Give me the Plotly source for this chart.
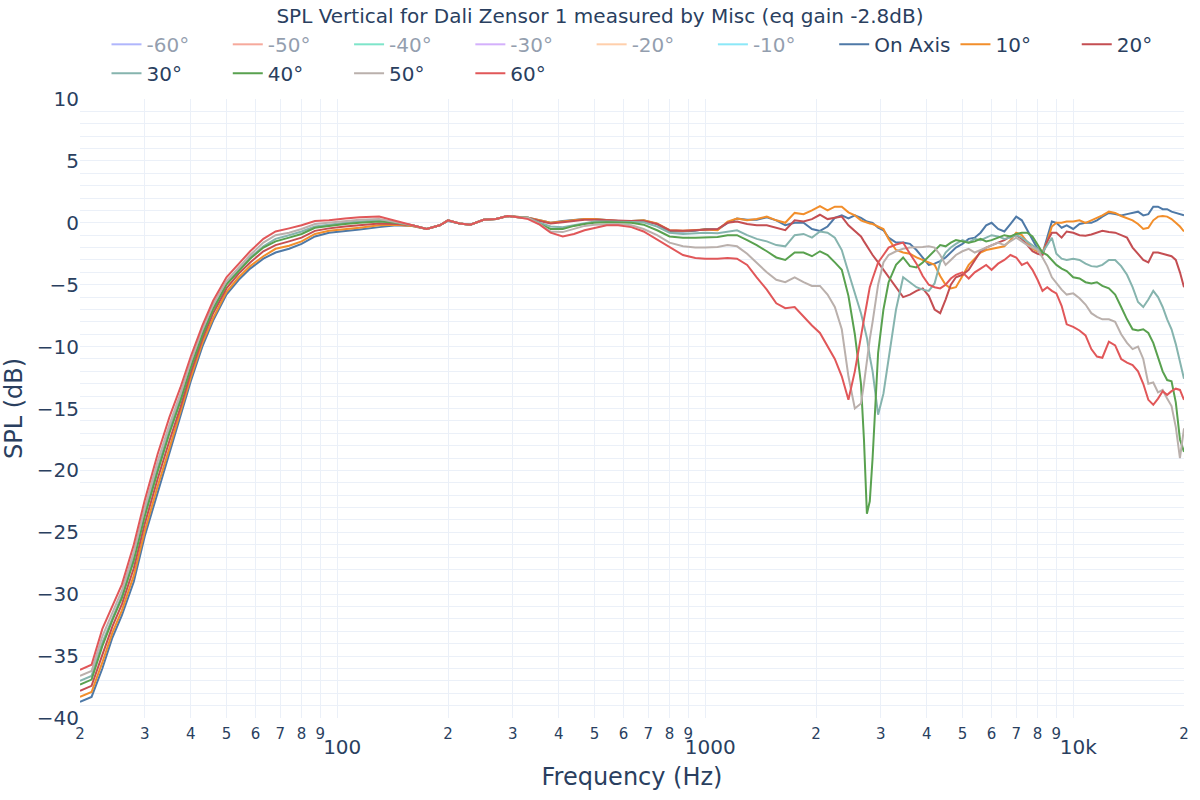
import plotly.graph_objects as go

TITLE = "SPL Vertical for Dali Zensor 1 measured by Misc (eq gain -2.8dB)"

FREQ = [
    20, 21.5, 23, 24.5, 26, 28, 30, 32.5, 35, 37.5,
    40, 43, 46, 50, 54, 58, 63, 68, 74, 80,
    87, 95, 105, 115, 130, 145, 160, 175, 190, 200,
    215, 230, 250, 270, 290, 310, 330, 355, 380, 410,
    440, 470, 500, 540, 580, 630, 680, 740, 800, 870,
    940, 1000, 1080, 1150, 1220, 1300, 1380, 1470, 1560, 1650,
    1750, 1850, 1950, 2050, 2150, 2250, 2350, 2450, 2550, 2650,
    2700, 2750, 2800, 2850, 2950, 3050, 3150, 3300, 3450, 3600,
    3750, 3900, 4050, 4200, 4350, 4500, 4650, 4800, 5000, 5200,
    5400, 5600, 5800, 6000, 6250, 6500, 6750, 7000, 7250, 7500,
    7750, 8000, 8250, 8500, 8750, 9000, 9300, 9600, 10000, 10400,
    10800, 11200, 11600, 12000, 12500, 13000, 13500, 14000, 14500, 15000,
    15500, 16000, 16500, 17000, 17500, 18000, 18500, 19000, 19500, 20000,
]

ON_AXIS = [
    -38.7, -38.3, -36.0, -33.5, -31.7, -29.0, -25.3, -21.8, -18.6, -15.7,
    -12.8, -10.0, -7.9, -5.8, -4.6, -3.7, -2.9, -2.4, -2.1, -1.7,
    -1.1, -0.8, -0.7, -0.55, -0.35, -0.2, -0.25, -0.5, -0.2, 0.15,
    -0.05, -0.15, 0.25, 0.3, 0.55, 0.45, 0.4, 0.2, 0.0, 0.15,
    0.25, 0.3, 0.3, 0.2, 0.15, 0.15, 0.2, -0.1, -0.7, -0.7,
    -0.65, -0.5, -0.55, 0.0, 0.35, 0.25, 0.25, 0.45, 0.2, -0.2,
    0.0, 0.0, -0.5, -0.65, -0.3, 0.4, 0.6, 0.35, 0.6, 0.4,
    0.25, 0.1, 0.05, 0.0, -0.4, -0.6, -1.2, -1.6, -1.6, -1.7,
    -2.2, -2.8, -3.4, -3.3, -3.1, -2.8, -2.4, -2.0, -1.7, -1.3,
    -1.2, -0.8, -0.2, 0.0, -0.5, -0.7, -0.1, 0.5, 0.2, -0.6,
    -1.4, -2.1, -2.5, -1.2, 0.1, 0.0, -0.4, -0.2, -0.5, -0.1,
    0.0, 0.0, 0.2, 0.5, 0.8, 0.7, 0.6, 0.7, 0.8, 0.9,
    0.6, 0.7, 1.3, 1.3, 1.1, 1.1, 0.9, 0.8, 0.7, 0.6,
]

DEG10 = [
    -38.3, -37.9, -35.5, -33.1, -31.3, -28.5, -24.9, -21.3, -18.2, -15.3,
    -12.5, -9.7, -7.7, -5.6, -4.4, -3.5, -2.7, -2.1, -1.85, -1.5,
    -0.9, -0.65, -0.55, -0.4, -0.2, -0.15, -0.25, -0.5, -0.2, 0.2,
    -0.05, -0.15, 0.25, 0.3, 0.55, 0.45, 0.4, 0.2, 0.0, 0.1,
    0.2, 0.3, 0.3, 0.2, 0.15, 0.15, 0.2, -0.05, -0.6, -0.65,
    -0.6, -0.55, -0.6, 0.1, 0.35, 0.2, 0.3, 0.5, 0.2, 0.0,
    0.8, 0.7, 1.0, 1.35, 1.0, 1.3, 1.3, 0.85, 0.6, 0.2,
    0.1, 0.0, -0.05, -0.1, -0.3, -0.5, -1.3, -2.2, -2.4, -2.5,
    -2.8, -3.0, -3.2, -3.4, -4.3, -5.0, -5.3, -5.2, -4.3, -3.4,
    -2.9, -2.4, -2.2, -2.1, -2.0, -1.9, -1.4, -0.8, -1.0, -1.6,
    -2.1, -2.3, -2.4, -1.5, -0.3, 0.0, 0.0, 0.1, 0.1, 0.2,
    0.0, 0.2, 0.4, 0.6, 0.9, 0.8, 0.55, 0.4, 0.2, -0.1,
    -0.5, -0.4, 0.2, 0.5, 0.55, 0.5, 0.3, 0.0, -0.3, -0.7,
]

DEG20 = [
    -37.8, -37.4, -34.9, -32.6, -30.8, -27.9, -24.3, -20.7, -17.6, -14.9,
    -12.1, -9.4, -7.3, -5.3, -4.1, -3.2, -2.3, -1.8, -1.5, -1.2,
    -0.65, -0.45, -0.3, -0.2, -0.05, -0.1, -0.2, -0.5, -0.2, 0.2,
    -0.05, -0.15, 0.25, 0.3, 0.55, 0.45, 0.4, 0.15, -0.05, 0.05,
    0.15, 0.25, 0.25, 0.2, 0.15, 0.15, 0.15, -0.1, -0.6, -0.65,
    -0.6, -0.55, -0.5, 0.0, 0.1, -0.1, -0.2, -0.2, -0.4, -0.6,
    0.2, 0.1, 0.3, 0.65, 0.3, 0.4, 0.5, -0.2, -0.7, -1.1,
    -1.5, -1.9, -2.2, -2.6, -3.2, -3.8, -4.4, -5.3, -6.0, -5.8,
    -5.5, -5.3, -5.9, -7.0, -7.3, -6.2, -5.0, -4.4, -4.2, -3.8,
    -3.0, -2.3, -2.0, -1.8, -1.6, -1.4, -1.1, -1.0, -1.3, -1.8,
    -2.3, -2.5, -2.6, -1.5, -0.8, -0.8, -1.2, -0.7, -0.8, -1.0,
    -1.05, -0.95, -0.8, -0.65, -0.75, -0.8, -1.0, -1.2, -2.0, -2.5,
    -3.0, -3.2, -2.4, -2.4, -2.5, -2.6, -2.7, -3.0, -4.0, -5.2,
]

DEG30 = [
    -37.0, -36.6, -33.9, -31.9, -30.1, -27.0, -23.4, -19.8, -16.7, -14.1,
    -11.5, -8.9, -6.9, -4.9, -3.8, -2.8, -1.9, -1.3, -1.0, -0.7,
    -0.3, -0.15, 0.0, 0.1, 0.2, 0.0, -0.2, -0.5, -0.2, 0.2,
    -0.05, -0.15, 0.25, 0.3, 0.55, 0.45, 0.4, 0.0, -0.3, -0.35,
    -0.2, 0.0, 0.1, 0.1, 0.1, 0.05, 0.05, -0.3, -0.8, -0.9,
    -0.85, -0.8, -0.85, -0.7, -0.6, -1.0, -1.3, -1.5, -1.8, -1.9,
    -1.0, -0.9, -1.2, -0.7, -0.8, -1.2, -2.2, -4.0, -5.6, -7.3,
    -8.3, -9.3, -10.8, -12.0, -15.5, -13.8, -11.0, -7.0, -4.4, -4.8,
    -5.2, -5.4, -5.5, -4.9, -3.2, -2.4, -2.0, -1.7, -1.4, -1.6,
    -1.3, -1.4, -1.2, -1.0, -1.1, -1.3, -1.2, -1.0, -1.2, -1.5,
    -1.8, -2.1, -2.4, -1.8, -1.2, -2.5, -2.9, -3.0, -2.9, -3.0,
    -3.3, -3.5, -3.55, -3.4, -3.0, -3.0, -3.5, -4.2, -5.2, -6.4,
    -6.8, -6.2, -5.5, -6.0, -6.8, -7.8, -8.6, -9.8, -11.2, -12.6,
]

DEG40 = [
    -37.3, -36.9, -34.2, -32.1, -30.3, -27.3, -23.7, -20.1, -17.0, -14.4,
    -11.7, -9.1, -7.0, -5.0, -3.9, -2.9, -2.0, -1.5, -1.2, -0.9,
    -0.4, -0.25, -0.1, 0.0, 0.1, 0.0, -0.2, -0.5, -0.2, 0.2,
    -0.05, -0.15, 0.25, 0.3, 0.55, 0.45, 0.4, -0.1, -0.5, -0.5,
    -0.25, -0.1, 0.0, 0.05, 0.05, 0.0, -0.15, -0.6, -1.1, -1.2,
    -1.2, -1.2, -1.15, -1.0, -1.0, -1.4, -1.8, -2.3, -2.8, -3.0,
    -2.4, -2.4, -2.7, -2.3, -2.6, -3.2, -3.8, -5.9, -9.0, -13.0,
    -17.5, -23.5, -22.5, -19.0, -10.5, -7.0, -4.8, -3.4, -2.8, -3.5,
    -3.6, -3.2, -2.7, -2.3, -1.8, -1.9, -1.6, -1.4, -1.5, -1.6,
    -1.5, -1.3, -1.5, -1.4, -1.2, -1.0, -1.1, -0.9, -0.8, -0.8,
    -1.1, -1.8, -2.4, -2.6, -3.0, -3.4, -3.7, -3.9, -4.4, -4.5,
    -4.8, -4.9, -4.8, -5.1, -5.3, -5.8, -6.8, -7.8, -8.6, -8.7,
    -8.6, -8.9, -9.7, -10.8, -12.0, -12.7, -12.8, -14.5, -17.5, -18.5,
]

DEG50 = [
    -36.6, -36.2, -33.4, -31.5, -29.7, -26.6, -23.0, -19.3, -16.3, -13.8,
    -11.2, -8.6, -6.6, -4.7, -3.6, -2.6, -1.6, -1.0, -0.8, -0.5,
    -0.1, 0.0, 0.15, 0.25, 0.3, 0.05, -0.2, -0.5, -0.2, 0.2,
    -0.05, -0.15, 0.25, 0.3, 0.55, 0.45, 0.4, -0.1, -0.7, -0.75,
    -0.5, -0.25, -0.15, -0.1, -0.1, -0.2, -0.5, -1.0, -1.6, -1.9,
    -2.0, -2.0, -1.95, -1.8, -1.9, -2.5, -3.2, -4.0, -4.6, -4.8,
    -4.4, -4.8, -5.1, -5.1, -5.8, -6.8, -8.6, -12.4, -15.0, -14.6,
    -13.0, -11.1, -9.4, -8.0, -5.0, -3.2, -2.6, -2.3, -2.1, -2.0,
    -2.0, -1.95, -1.9, -2.0, -2.6, -3.4, -3.0, -2.6, -2.3, -2.1,
    -2.4, -2.2, -2.0, -1.8, -1.6, -1.8, -1.5, -1.2, -1.5, -1.8,
    -2.0, -2.2, -2.8, -3.5, -4.4, -4.9, -5.4, -5.8, -5.7, -6.1,
    -6.6, -7.3, -7.6, -7.8, -7.8, -8.0, -9.0, -9.7, -10.2, -10.0,
    -11.0, -13.0, -12.9, -13.7, -13.5, -14.2, -14.8, -16.5, -19.0, -16.6,
]

DEG60 = [
    -36.1, -35.7, -32.8, -31.0, -29.2, -26.0, -22.4, -18.7, -15.7, -13.3,
    -10.8, -8.3, -6.3, -4.4, -3.3, -2.3, -1.3, -0.7, -0.45, -0.2,
    0.15, 0.2, 0.35, 0.45, 0.5, 0.1, -0.2, -0.5, -0.2, 0.2,
    -0.05, -0.15, 0.25, 0.3, 0.55, 0.45, 0.3, -0.15, -0.8, -1.1,
    -0.9, -0.6, -0.4, -0.2, -0.2, -0.35, -0.7, -1.35, -2.0, -2.6,
    -2.85, -2.9, -2.9, -2.85, -2.9, -3.4, -4.4, -5.4, -6.5, -6.9,
    -6.8, -7.6, -8.3, -8.9, -10.0, -11.0, -12.4, -14.3, -12.0, -9.0,
    -7.8, -6.5, -5.2, -4.5, -3.2, -2.6, -2.0, -1.75, -1.6, -2.5,
    -3.3, -4.3, -5.0, -5.2, -5.3, -5.0, -4.5, -4.2, -4.0, -4.5,
    -4.0, -3.7, -3.4, -3.8, -3.3, -3.0, -2.6, -2.8, -3.4, -3.2,
    -3.8, -4.6, -5.5, -5.2, -5.5, -5.7, -6.7, -8.2, -8.4, -8.7,
    -9.1, -10.2, -10.8, -10.9, -9.6, -9.9, -11.0, -11.3, -11.5, -12.0,
    -13.0, -14.3, -14.7, -14.2, -13.6, -13.9, -13.6, -13.4, -13.5, -14.3,
]

# legend-only (hidden) traces: negative angles mirror the positive ones
SERIES = [
    ("-60°", DEG60, "#636efa", "legendonly"),
    ("-50°", DEG50, "#EF553B", "legendonly"),
    ("-40°", DEG40, "#00cc96", "legendonly"),
    ("-30°", DEG30, "#ab63fa", "legendonly"),
    ("-20°", DEG20, "#FFA15A", "legendonly"),
    ("-10°", DEG10, "#19d3f3", "legendonly"),
    ("On Axis", ON_AXIS, "#4e79a7", True),
    ("10°", DEG10, "#f28e2b", True),
    ("20°", DEG20, "#c44e52", True),
    ("30°", DEG30, "#86b4ae", True),
    ("40°", DEG40, "#59a14f", True),
    ("50°", DEG50, "#bab0ac", True),
    ("60°", DEG60, "#e15759", True),
]

FONT = "DejaVu Sans"

fig = go.Figure()
for name, vals, color, vis in SERIES:
    fig.add_trace(go.Scatter(
        x=FREQ, y=vals, name=name, mode="lines",
        line=dict(color=color, width=2), visible=vis,
    ))

fig.update_layout(
    template="plotly_white",
    width=1200, height=800,
    font=dict(family=FONT, size=20, color="#2a3f5f"),
    title=dict(text=TITLE, x=0.5, xanchor="center", y=0.98, yanchor="middle",
               font=dict(size=20, family=FONT)),
    margin=dict(l=80, r=16, t=99, b=82),
    legend=dict(orientation="h", x=0.5, xanchor="center", y=1.01, yanchor="bottom",
                font=dict(size=20, family=FONT)),
    showlegend=True,
)
fig.update_xaxes(
    type="log", range=[1.30103, 4.30103], dtick="D1",
    title=dict(text="Frequency (Hz)", font=dict(size=24), standoff=10),
    tickfont=dict(size=20), showline=False, zeroline=False,
    ticklabelstandoff=5, automargin=False,
)
fig.update_yaxes(
    range=[-40, 10], dtick=5,
    title=dict(text="SPL (dB)", font=dict(size=24)),
    tickfont=dict(size=20), zeroline=False, automargin=False,
    minor=dict(dtick=1, showgrid=True, gridcolor="#EBF0F8"),
)

fig.write_html("out.html")
